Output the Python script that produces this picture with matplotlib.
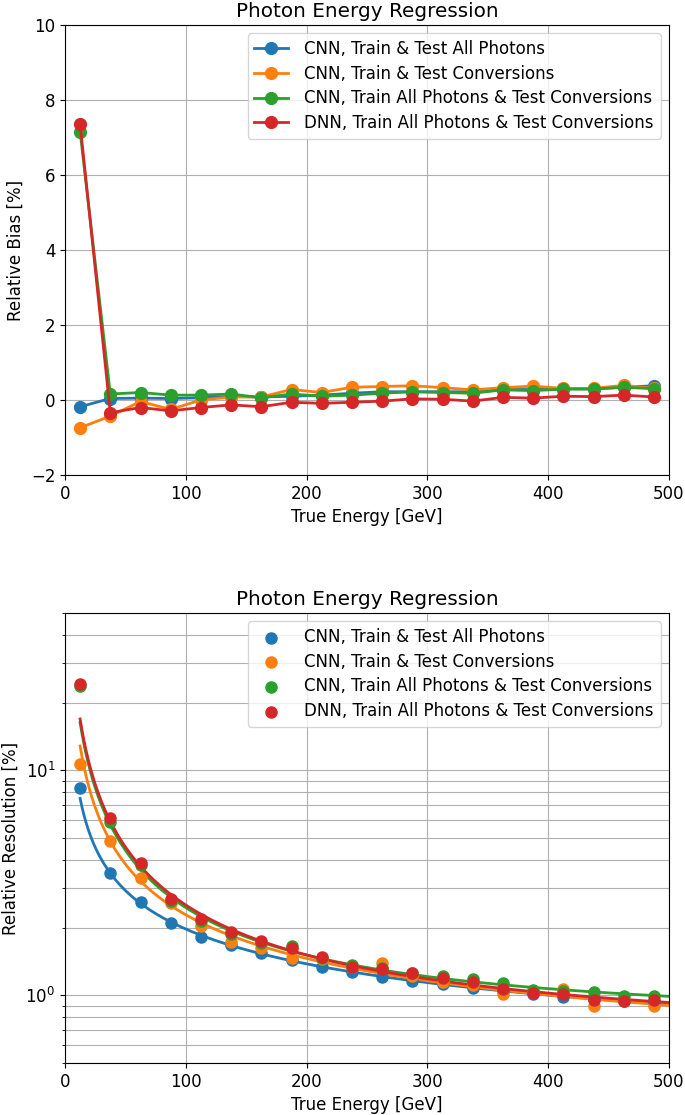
import numpy as np
import matplotlib
matplotlib.use("Agg")
import matplotlib.pyplot as plt

plt.rcParams["font.size"] = 12

# bin centres of 25 GeV bins
energy = [12.5, 37.5, 62.5, 87.5, 112.5, 137.5, 162.5, 187.5, 212.5, 237.5,
          262.5, 287.5, 312.5, 337.5, 362.5, 387.5, 412.5, 437.5, 462.5, 487.5]

labels = ["CNN, Train & Test All Photons",
          "CNN, Train & Test Conversions",
          "CNN, Train All Photons & Test Conversions",
          "DNN, Train All Photons & Test Conversions"]
colors = ["#1f77b4", "#ff7f0e", "#2ca02c", "#d62728"]

# relative bias [%]
bias_cnn_all = [-0.18, 0.04, 0.05, 0.04, 0.06, 0.10, 0.08, 0.10, 0.13, 0.18,
                0.22, 0.22, 0.22, 0.22, 0.28, 0.28, 0.30, 0.30, 0.34, 0.38]
bias_cnn_conv = [-0.74, -0.43, -0.04, -0.25, 0.00, 0.08, 0.08, 0.28, 0.20, 0.34,
                 0.36, 0.38, 0.33, 0.27, 0.33, 0.37, 0.31, 0.31, 0.39, 0.31]
bias_cnn_mixed = [7.16, 0.16, 0.20, 0.13, 0.13, 0.16, 0.06, 0.16, 0.10, 0.13,
                  0.18, 0.22, 0.20, 0.18, 0.27, 0.25, 0.29, 0.29, 0.34, 0.30]
bias_dnn_mixed = [7.36, -0.34, -0.20, -0.29, -0.20, -0.13, -0.18, -0.06, -0.09, -0.06,
                  -0.03, 0.03, 0.02, -0.03, 0.07, 0.05, 0.10, 0.09, 0.13, 0.08]

# relative resolution [%]
res_cnn_all = [8.35, 3.48, 2.60, 2.09, 1.82, 1.68, 1.54, 1.43, 1.34, 1.27,
               1.21, 1.16, 1.12, 1.08, 1.05, 1.01, 0.98, 0.96, 0.94, 0.93]
res_cnn_conv = [10.7, 4.84, 3.33, 2.56, 2.03, 1.73, 1.63, 1.47, 1.45, 1.34,
                1.39, 1.22, 1.14, 1.11, 1.01, 1.03, 1.07, 0.90, 0.94, 0.90]
res_cnn_mixed = [23.8, 5.88, 3.78, 2.62, 2.14, 1.87, 1.71, 1.66, 1.46, 1.37,
                 1.32, 1.25, 1.22, 1.18, 1.13, 1.06, 1.05, 1.03, 0.99, 0.99]
res_dnn_mixed = [24.3, 6.14, 3.88, 2.69, 2.19, 1.91, 1.74, 1.62, 1.48, 1.34,
                 1.31, 1.25, 1.19, 1.14, 1.07, 1.02, 1.01, 0.95, 0.94, 0.95]

biases = [bias_cnn_all, bias_cnn_conv, bias_cnn_mixed, bias_dnn_mixed]
resolutions = [res_cnn_all, res_cnn_conv, res_cnn_mixed, res_dnn_mixed]


def fit_resolution(E, s):
    # s^2 = a/E + b/E^2 + c, relative weights, first bin left out
    E = np.asarray(E)[1:]
    s = np.asarray(s)[1:]
    A = np.column_stack([1 / E, 1 / E**2, np.ones_like(E)]) / s[:, None]**2
    coef = np.linalg.lstsq(A, np.ones_like(E), rcond=None)[0]
    return coef


fig = plt.figure(figsize=(6.85, 11.15), dpi=100)
ax1 = fig.add_axes([65 / 685, 1 - 475 / 1115, 604 / 685, 450 / 1115])
ax2 = fig.add_axes([65 / 685, 1 - 1063 / 1115, 604 / 685, 450 / 1115])

for b, c, lab in zip(biases, colors, labels):
    ax1.plot(energy, b, "o-", color=c, label=lab, lw=2, markersize=8.5)
ax1.set_xlim(0, 500)
ax1.set_ylim(-2, 10)
ax1.grid(True)
ax1.set_title("Photon Energy Regression")
ax1.set_xlabel("True Energy [GeV]")
ax1.set_ylabel("Relative Bias [%]")
ax1.legend(loc="upper right", handletextpad=1.0, labelspacing=0.4)

Egrid = np.linspace(12.5, 500, 300)
for s, c, lab in zip(resolutions, colors, labels):
    a, b, k = fit_resolution(energy, s)
    ax2.plot(Egrid, np.sqrt(a / Egrid + b / Egrid**2 + k), color=c, lw=2)
for s, c, lab in zip(resolutions, colors, labels):
    ax2.scatter(energy, s, color=c, s=64, label=lab, zorder=3)
ax2.set_yscale("log")
ax2.set_xlim(0, 500)
ax2.set_ylim(0.5, 50)
ax2.grid(True, which="both")
ax2.set_title("Photon Energy Regression")
ax2.set_xlabel("True Energy [GeV]")
ax2.set_ylabel("Relative Resolution [%]")
ax2.legend(loc="upper right", handletextpad=1.0, labelspacing=0.4)

fig.savefig("out.png", dpi=100)
